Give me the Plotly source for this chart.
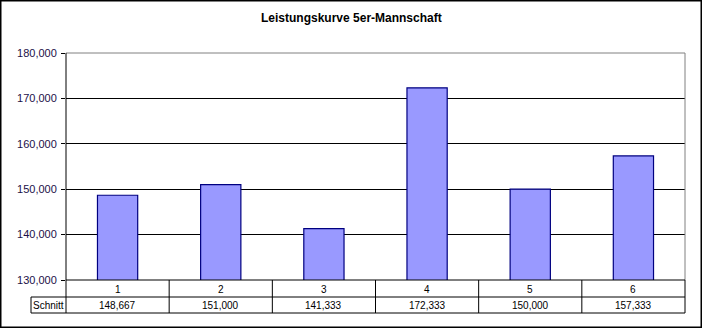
import plotly.graph_objects as go

# Data
categories = ["1", "2", "3", "4", "5", "6"]
schnitt = [148667, 151000, 141333, 172333, 150000, 157333]
row_label = "Schnitt"
title_text = "Leistungskurve 5er-Mannschaft"

W, H = 703, 329
# plot area in pixels
PX0, PX1 = 66, 685
PY0, PY1 = 53, 280
# data table rows (pixels)
ROW1_BOT, ROW2_BOT = 297, 313
LABEL_X0 = 31

def fx(px):
    return px / W

def fy(py):
    return 1 - py / H

def fmt(v):
    return f"{v:,}"

fig = go.Figure()
fig.add_trace(go.Bar(
    x=categories, y=schnitt,
    marker=dict(color="#9999FF", line=dict(color="#000080", width=1.2)),
    hoverinfo="x+y",
))

FONT = "Arial, Liberation Sans, sans-serif"

shapes = []
annotations = []

def line(x0, y0, x1, y1, color="black", width=1):
    shapes.append(dict(type="line", xref="paper", yref="paper",
                       x0=fx(x0), y0=fy(y0), x1=fx(x1), y1=fy(y1),
                       line=dict(color=color, width=width), layer="above"))

# plot-area frame: top/right grey, left/bottom black
line(PX0, PY0, PX1, PY0, "#808080")
line(PX1, PY0, PX1, PY1, "#808080")
line(PX0, PY1, PX1, PY1)
line(PX0, PY0, PX0, ROW2_BOT)

# data table grid
n = len(categories)
colw = (PX1 - PX0) / n
for i in range(1, n):
    xb = PX0 + colw * i
    line(xb, PY1, xb, ROW2_BOT)
line(PX1, PY1, PX1, ROW2_BOT)
line(LABEL_X0, ROW1_BOT, PX1, ROW1_BOT)
line(LABEL_X0, ROW2_BOT, PX1, ROW2_BOT)
line(LABEL_X0, ROW1_BOT, LABEL_X0, ROW2_BOT)

for i, (c, v) in enumerate(zip(categories, schnitt)):
    cx = PX0 + colw * (i + 0.5)
    annotations.append(dict(xref="paper", yref="paper", x=fx(cx), y=fy((PY1 + ROW1_BOT) / 2 + 0.5),
                            text=c, showarrow=False, xanchor="center", yanchor="middle",
                            font=dict(family=FONT, size=10, color="black")))
    annotations.append(dict(xref="paper", yref="paper", x=fx(cx), y=fy((ROW1_BOT + ROW2_BOT) / 2 + 0.5),
                            text=fmt(v), showarrow=False, xanchor="center", yanchor="middle",
                            font=dict(family=FONT, size=10, color="black")))
annotations.append(dict(xref="paper", yref="paper", x=fx((LABEL_X0 + PX0) / 2), y=fy((ROW1_BOT + ROW2_BOT) / 2 + 0.5),
                        text=row_label, showarrow=False, xanchor="center", yanchor="middle",
                        font=dict(family=FONT, size=10, color="black")))

# title
annotations.append(dict(xref="paper", yref="paper", x=fx(351.5), y=fy(18),
                        text=f"<b>{title_text}</b>", showarrow=False,
                        xanchor="center", yanchor="middle",
                        font=dict(family=FONT, size=12, color="black")))

# outer chart border
shapes.append(dict(type="rect", xref="paper", yref="paper",
                   x0=fx(0.75), y0=fy(327.25), x1=fx(701.25), y1=fy(0.75),
                   line=dict(color="black", width=1.5), layer="above"))

fig.update_layout(
    width=W, height=H,
    margin=dict(l=0, r=0, t=0, b=0, autoexpand=False),
    paper_bgcolor="white", plot_bgcolor="white",
    showlegend=False,
    bargap=0.61,
    xaxis=dict(domain=[fx(PX0), fx(PX1)], showticklabels=False, showgrid=False,
               showline=False, ticks="", zeroline=False, fixedrange=True),
    yaxis=dict(domain=[fy(PY1), fy(PY0)], range=[130000, 180000], dtick=10000,
               tickformat=",d", showgrid=True, gridcolor="black", gridwidth=1,
               zeroline=False, showline=False, ticks="outside", ticklen=4,
               tickcolor="black", tickwidth=1,
               tickfont=dict(family=FONT, size=11, color="#1c1048"),
               ticklabelstandoff=2, fixedrange=True),
    shapes=shapes,
    annotations=annotations,
)

fig.write_html("out.html")
